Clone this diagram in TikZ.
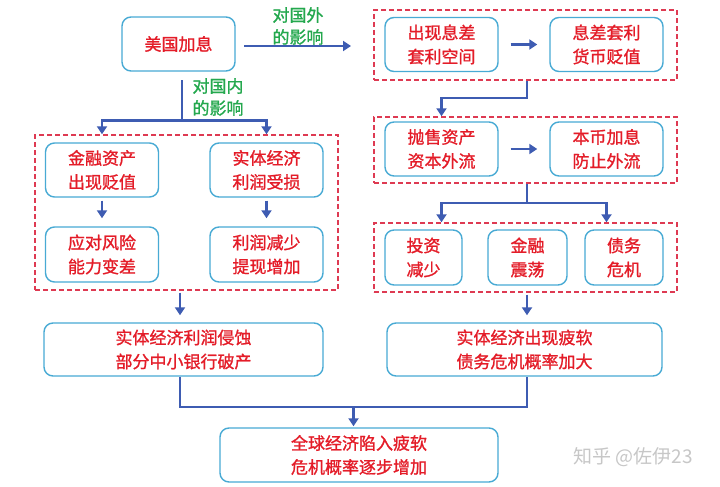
\documentclass[tikz,border=0pt]{standalone}
\usepackage{fontspec}
\newfontfamily\cjk[FakeBold=1.2]{Noto Sans CJK SC}
\newfontfamily\cjklight{Noto Sans CJK SC}
\usetikzlibrary{arrows.meta}
\definecolor{boxblue}{RGB}{72,170,212}
\definecolor{txtred}{RGB}{228,28,40}
\definecolor{arrblue}{RGB}{62,92,178}
\definecolor{dashred}{RGB}{222,58,82}
\definecolor{lblgreen}{RGB}{36,168,78}
\tikzset{
  stepbox/.style={draw=boxblue, line width=1.4pt, rounded corners=9pt, fill=white,
    text=txtred, font=\cjk\fontsize{17}{24}\selectfont, align=center, inner sep=0pt},
  groupbox/.style={draw=dashred, line width=1.4pt, dash pattern=on 5pt off 3pt, inner sep=0pt},
  conn/.style={draw=arrblue, line width=2.4pt},
  arr/.style={conn, -{Triangle[length=8pt,width=10pt]}},
  lbl/.style={text=lblgreen, font=\cjk\fontsize{17}{22}\selectfont, align=center, inner sep=0pt},
}
\begin{document}
\begin{tikzpicture}[x=1pt,y=-1pt]
\useasboundingbox[fill=white] (0,0) rectangle (720,487);
% group boxes
\node[groupbox, minimum width=303pt, minimum height=70pt] (dR1) at (525.5,45) {};
\node[groupbox, minimum width=303pt, minimum height=66pt] (dR2) at (525.5,150) {};
\node[groupbox, minimum width=303pt, minimum height=69pt] (dR3) at (525.5,257.5) {};
\node[groupbox, minimum width=303pt, minimum height=155pt] (dL) at (186.5,212.5) {};
% boxes
\node[stepbox, minimum width=113pt, minimum height=54pt] (us) at (178.5,44) {美国加息};
\node[stepbox, minimum width=113pt, minimum height=54pt] (r1a) at (441.5,44.5) {出现息差\\套利空间};
\node[stepbox, minimum width=113pt, minimum height=54pt] (r1b) at (606.5,44.5) {息差套利\\货币贬值};
\node[stepbox, minimum width=113pt, minimum height=54pt] (r2a) at (441.5,149) {抛售资产\\资本外流};
\node[stepbox, minimum width=113pt, minimum height=54pt] (r2b) at (606.5,149) {本币加息\\防止外流};
\node[stepbox, minimum width=77pt, minimum height=55pt] (r3a) at (423.5,257.5) {投资\\减少};
\node[stepbox, minimum width=79pt, minimum height=55pt] (r3b) at (527.5,257.5) {金融\\震荡};
\node[stepbox, minimum width=78pt, minimum height=55pt] (r3c) at (624,257.5) {债务\\危机};
\node[stepbox, minimum width=113pt, minimum height=54pt] (l1a) at (102,170) {金融资产\\出现贬值};
\node[stepbox, minimum width=113pt, minimum height=54pt] (l1b) at (266.5,170) {实体经济\\利润受损};
\node[stepbox, minimum width=113pt, minimum height=55pt] (l2a) at (102,254.5) {应对风险\\能力变差};
\node[stepbox, minimum width=113pt, minimum height=55pt] (l2b) at (266.5,254.5) {利润减少\\提现增加};
\node[stepbox, minimum width=279pt, minimum height=53pt] (b1) at (183.5,349.5) {实体经济利润侵蚀\\部分中小银行破产};
\node[stepbox, minimum width=275pt, minimum height=53pt] (b2) at (524.5,349.5) {实体经济出现疲软\\债务危机概率加大};
\node[stepbox, minimum width=278pt, minimum height=54pt] (b3) at (359,455) {全球经济陷入疲软\\危机概率逐步增加};
% labels
\node[lbl] (lout) at (298,26) {对国外\\的影响};
\node[lbl] (lin) at (218,97) {对国内\\的影响};
\node[text=black!22, font=\cjklight\fontsize{19}{19}\selectfont, inner sep=0pt] (wm) at (633,457) {知乎 @佐伊23};
% coordinates
\coordinate (outs) at (244,46);
\coordinate (oute) at (351,46);
\coordinate (ins) at (182,80);
\coordinate (insplit) at (182,120.5);
\coordinate (jL) at (180,0);
\coordinate (jR) at (527,0);
\coordinate (jy) at (0,407);
\coordinate (mid) at (353.5,407);
% connectors
\draw[arr] (outs) -- (oute);
\draw[conn] (ins) -- (insplit);
\draw[arr] (insplit) -| (dL.north -| l1a);
\draw[arr] (insplit) -| (dL.north -| l1b);
\draw[arr, shorten <=3pt, shorten >=8pt] (l1a) -- (l2a);
\draw[arr, shorten <=3pt, shorten >=8pt] (l1b) -- (l2b);
\draw[arr, shorten <=12pt, shorten >=12pt] (r1a) -- (r1b);
\draw[arr, shorten <=12pt, shorten >=12pt] (r2a) -- (r2b);
\draw[arr] (dR1.south -| jR) -- ++(0,17) -| (dR2.north -| r2a);
\draw[arr] (dR2.south -| jR) -- ++(0,19) -| (dR3.north -| r2a);
\draw[arr] (dR2.south -| jR) -- ++(0,19) -| (dR3.north -| r2b);
\draw[arr, shorten <=2pt, shorten >=7pt] (dL.south -| jL) -- (b1.north -| jL);
\draw[arr, shorten <=2pt, shorten >=7pt] (dR3.south -| jR) -- (b2.north -| jR);
\draw[conn] (b1.south -| jL) |- (jy -| jR) -- (b2.south -| jR);
\draw[arr, shorten >=1pt] (mid) -- (b3.north -| mid);
\end{tikzpicture}
\end{document}
